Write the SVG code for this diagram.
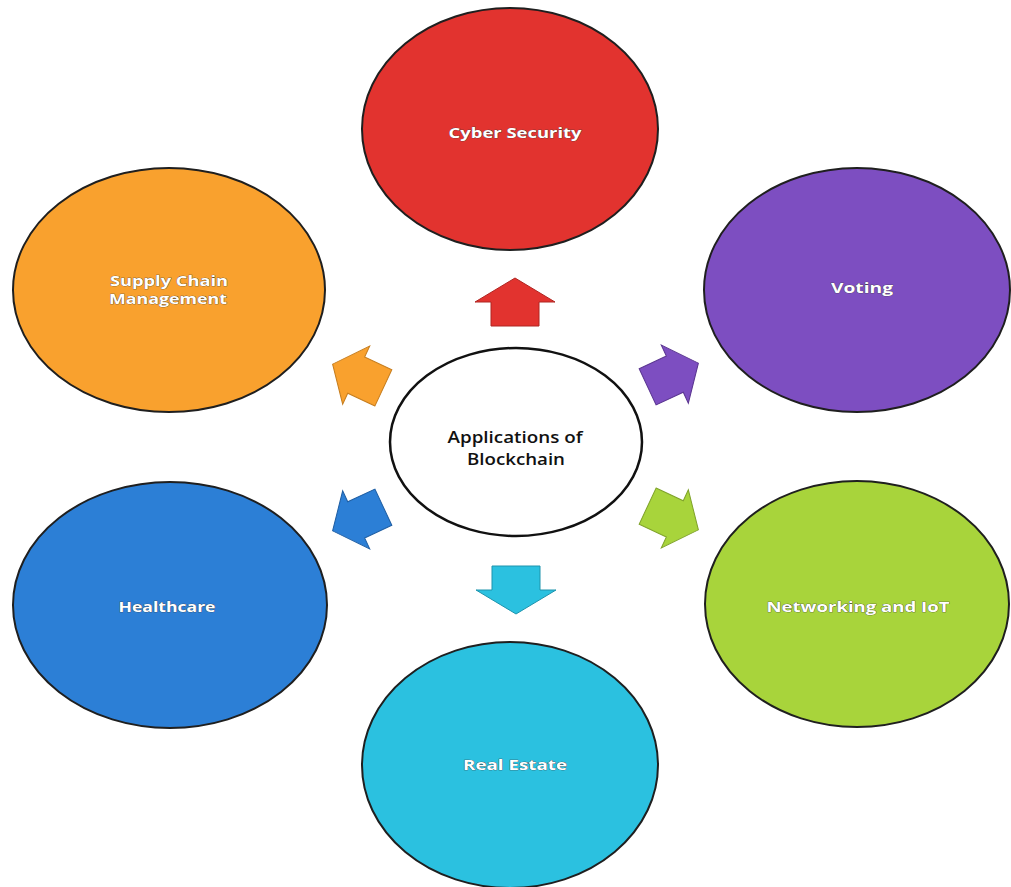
<svg xmlns="http://www.w3.org/2000/svg" width="1011" height="887" viewBox="0 0 1011 887">
<style>
.node{stroke:#1f1f1f;stroke-width:2}
.lbl{font-family:"Open Sans","Liberation Sans",sans-serif;font-weight:bold;font-size:15px;fill:#ffffff;text-anchor:middle;stroke:#3a3a3a;stroke-width:0.6;paint-order:stroke}
.ctr{font-family:"Open Sans","Liberation Sans",sans-serif;font-weight:600;font-size:16px;fill:#111111;text-anchor:middle}
.arr{stroke-width:1}
</style>
<defs>
<path id="arrow" d="M-24,-24 L0,-24 L0,-40 L24,0 L0,40 L0,24 L-24,24 Z"/>
<path id="arrowd" d="M-28,-20 L2,-20 L2,-32 L28,0 L2,32 L2,20 L-28,20 Z"/>
</defs>
<rect width="1011" height="887" fill="#ffffff"/>
<g id="connectors">
<use href="#arrow" class="arr" fill="#E2332F" stroke="#b02622" transform="translate(515,302) rotate(-90)"/>
<use href="#arrowd" class="arr" fill="#7D4EC1" stroke="#5a3590" transform="translate(673,375) rotate(-25)"/>
<use href="#arrowd" class="arr" fill="#A8D43B" stroke="#7fa22a" transform="translate(673,518) rotate(25)"/>
<use href="#arrow" class="arr" fill="#2BC1E0" stroke="#1e94ad" transform="translate(516,590) rotate(90)"/>
<use href="#arrowd" class="arr" fill="#2C7FD6" stroke="#1f5ea3" transform="translate(358,519) rotate(155)"/>
<use href="#arrowd" class="arr" fill="#F9A12E" stroke="#c67d1e" transform="translate(358,376) rotate(-155)"/>
</g>
<g id="center">
<ellipse cx="516" cy="442" rx="126" ry="94" fill="#ffffff" stroke="#111111" stroke-width="2.5"/>
<text class="ctr" x="515" y="443" textLength="135" lengthAdjust="spacingAndGlyphs">Applications of</text>
<text class="ctr" x="516" y="465" textLength="98" lengthAdjust="spacingAndGlyphs">Blockchain</text>
</g>
<g id="cyber-security">
<ellipse class="node" cx="510" cy="129" rx="148" ry="121" fill="#E2332F"/>
<text class="lbl" x="515" y="138" textLength="133" lengthAdjust="spacingAndGlyphs">Cyber Security</text>
</g>
<g id="voting">
<ellipse class="node" cx="857" cy="290" rx="153" ry="122" fill="#7D4EC1"/>
<text class="lbl" x="862" y="293" textLength="62" lengthAdjust="spacingAndGlyphs">Voting</text>
</g>
<g id="networking-iot">
<ellipse class="node" cx="857" cy="604" rx="152" ry="123" fill="#A8D43B"/>
<text class="lbl" x="858" y="612" textLength="183" lengthAdjust="spacingAndGlyphs">Networking and IoT</text>
</g>
<g id="real-estate">
<ellipse class="node" cx="510" cy="765" rx="148" ry="123" fill="#2BC1E0"/>
<text class="lbl" x="515" y="770" textLength="104" lengthAdjust="spacingAndGlyphs">Real Estate</text>
</g>
<g id="healthcare">
<ellipse class="node" cx="170" cy="605" rx="157" ry="123" fill="#2C7FD6"/>
<text class="lbl" x="167" y="612" textLength="97" lengthAdjust="spacingAndGlyphs">Healthcare</text>
</g>
<g id="supply-chain">
<ellipse class="node" cx="169" cy="290" rx="156" ry="122" fill="#F9A12E"/>
<text class="lbl" x="169" y="286" textLength="118" lengthAdjust="spacingAndGlyphs">Supply Chain</text>
<text class="lbl" x="168" y="304" textLength="118" lengthAdjust="spacingAndGlyphs">Management</text>
</g>
</svg>
